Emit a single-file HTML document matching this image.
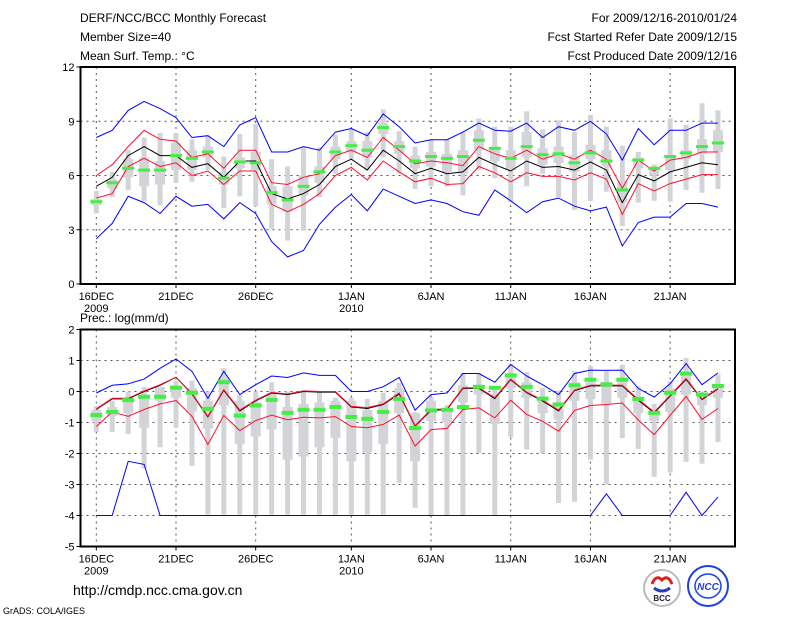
<!DOCTYPE html>
<html><head><meta charset="utf-8"><style>
html,body{margin:0;padding:0;background:#fff;}
svg{display:block;font-family:"Liberation Sans",sans-serif;}
</style></head><body>
<svg id="chart" width="800" height="618" viewBox="0 0 800 618" xmlns="http://www.w3.org/2000/svg">
<g font-size="12" fill="#000">
<text x="80" y="22">DERF/NCC/BCC Monthly Forecast</text>
<text x="80" y="41">Member Size=40</text>
<text x="80" y="60">Mean Surf. Temp.: °C</text>
<text x="737" y="22" text-anchor="end">For 2009/12/16-2010/01/24</text>
<text x="737" y="41" text-anchor="end">Fcst Started Refer Date 2009/12/15</text>
<text x="737" y="60" text-anchor="end">Fcst Produced Date 2009/12/16</text>
</g>
<text x="80" y="322" font-size="12">Prec.: log(mm/d)</text>
<text x="73" y="595" font-size="14">http://cmdp.ncc.cma.gov.cn</text>
<text x="3" y="614" font-size="9">GrADS: COLA/IGES</text>
<g>
<circle cx="662" cy="588" r="18" fill="#fff" stroke="#bbb" stroke-width="2"/>
<path d="M652 584 q4 -10 10 -4 q6 -6 10 4" fill="none" stroke="#e02020" stroke-width="3"/>
<path d="M654 588 q8 6 16 0" fill="none" stroke="#2040c0" stroke-width="3"/>
<text x="662" y="601" font-size="8" font-weight="bold" text-anchor="middle" fill="#223">BCC</text>
</g>
<g>
<circle cx="708" cy="586" r="20" fill="#fff" stroke="#2040e0" stroke-width="2"/>
<ellipse cx="708" cy="586" rx="13" ry="12" fill="none" stroke="#2040e0" stroke-width="1.5"/>
<text x="708" y="590" font-size="10" font-weight="bold" font-style="italic" text-anchor="middle" fill="#2040e0">NCC</text>
</g>
<g id="top"></g>
<g id="bot"></g>
</svg>
<script>
// ---- data ----
const days = ["16DEC","21DEC","26DEC","1JAN","6JAN","11JAN","16JAN","21JAN"];
const dayIdx = [0,5,10,16,21,26,31,36];
const years = ["2009","2010"];
const yearIdx = [0,16];
const tTicks = [0,3,6,9,12];
const pTicks = [-5,-4,-3,-2,-1,0,1,2];

const tBlueHi = [8.1,8.5,9.6,10.1,9.7,9.2,8.1,8.2,7.6,8.8,9.2,7.3,7.3,7.6,7.4,8.4,8.6,8.2,9.4,8.7,7.8,7.98,7.98,8.4,8.9,8.5,8.45,8.9,8.1,8.7,8.5,9.0,8.3,6.85,8.6,7.7,8.5,8.5,8.9,8.9];
const tRedHi = [6.0,6.6,7.6,8.5,8.0,7.9,7.0,7.2,6.4,7.4,7.4,5.6,5.5,5.9,6.1,7.1,7.4,7.0,8.1,7.4,6.65,6.8,6.7,6.55,7.6,7.2,6.95,7.4,6.9,7.2,6.9,7.4,6.9,5.3,6.85,6.25,6.85,7.0,7.3,7.3];
const tMean = [5.4,5.9,7.1,7.6,7.1,7.1,6.45,6.65,5.9,6.8,6.8,5.0,4.7,5.0,5.5,6.5,6.9,6.3,7.4,6.8,6.1,6.4,6.1,6.2,7.0,6.6,6.25,6.8,6.45,6.5,6.3,6.75,6.3,4.5,6.05,5.7,6.2,6.45,6.7,6.6];
const tRedLo = [4.75,5.0,6.5,6.95,6.5,6.7,6.0,6.25,5.5,6.25,6.25,4.4,4.0,4.4,5.0,6.0,6.45,5.75,6.8,6.2,5.65,5.85,5.5,5.55,6.5,6.15,5.65,6.15,5.95,5.95,5.75,6.15,5.8,3.85,5.55,5.15,5.55,5.8,6.05,6.05];
const tBlueLo = [2.5,3.35,4.85,4.5,3.9,4.85,4.3,4.4,3.6,4.5,3.9,2.35,1.5,1.85,3.3,4.25,4.95,4.05,5.25,4.85,4.45,4.65,4.45,4.0,3.8,5.2,4.6,3.95,4.55,4.75,4.3,4.05,4.25,2.1,3.4,3.7,3.7,4.45,4.45,4.25];
const tMedian = [4.55,5.6,6.4,6.3,6.3,7.1,6.95,7.3,5.85,6.75,6.7,5.05,4.65,5.4,6.2,7.3,7.65,7.4,8.65,7.6,6.8,7.05,6.95,7.05,7.95,7.5,6.95,7.6,7.15,7.2,6.7,7.25,6.8,5.2,6.85,6.4,7.05,7.25,7.6,7.8];
const tMax = [5.15,6.2,7.4,8.1,8.35,8.35,8.0,8.15,7.05,8.3,8.85,6.9,6.5,7.55,7.55,8.25,8.6,8.4,9.65,8.45,7.6,8.0,8.0,8.4,9.15,8.7,8.7,9.55,8.55,9.05,8.4,9.35,8.7,7.65,7.3,6.6,9.15,8.8,10.0,9.6];
const tMin = [3.9,4.8,5.2,4.6,4.35,5.6,5.65,6.3,4.2,4.85,4.3,3.05,2.4,2.95,4.8,6.1,6.9,6.3,7.0,6.1,5.25,5.4,5.4,4.9,6.3,5.85,4.55,5.4,6.1,4.8,4.1,4.6,5.1,3.2,4.5,4.6,4.55,5.2,5.05,5.25];
const tQ3 = [4.7,5.8,6.9,7.0,6.8,7.8,7.4,7.6,6.2,7.0,7.3,5.4,5.4,6.0,6.5,7.6,7.9,7.9,8.9,7.9,7.1,7.3,7.2,7.4,8.5,7.6,7.4,8.4,7.5,7.6,7.1,7.7,7.4,5.7,7.0,6.4,7.0,7.4,8.0,8.5];
const tQ1 = [4.35,5.3,5.9,5.4,5.5,6.3,6.3,7.0,5.5,6.4,6.3,4.4,4.0,4.9,5.6,6.9,7.3,7.0,8.3,7.2,6.4,6.5,6.2,6.1,7.4,6.8,6.3,7.0,6.6,6.7,6.2,6.9,6.5,4.5,6.4,6.0,6.3,6.9,7.2,7.3];

const pBlueHi = [-0.05,0.2,0.25,0.4,0.75,1.05,0.65,-0.22,0.65,-0.1,0.22,0.5,0.45,0.6,0.52,0.52,0,0,0.15,0.45,-0.6,-0.1,-0.05,0.58,0.58,0.3,0.87,0.5,0.22,-0.1,0.58,0.69,0.68,0.69,0.1,-0.18,0.25,0.9,0.22,0.6];
const pRedHi = [-0.56,-0.22,-0.22,0.02,0.22,0.46,-0.06,-0.8,0.06,-0.6,-0.28,-0.03,-0.08,0.02,0,0,-0.48,-0.52,-0.4,-0.05,-1.1,-0.58,-0.56,0.12,0.12,-0.2,0.4,-0.02,-0.28,-0.6,0.05,0.2,0.21,0.2,-0.25,-0.66,-0.13,0.42,-0.24,0.1];
const pMean = [-0.58,-0.24,-0.24,0,0.2,0.46,-0.08,-0.82,0.04,-0.63,-0.3,-0.05,-0.1,0,-0.02,-0.02,-0.5,-0.55,-0.42,-0.08,-1.12,-0.61,-0.58,0.1,0.1,-0.23,0.38,-0.04,-0.31,-0.63,0.03,0.18,0.18,0.18,-0.28,-0.69,-0.15,0.39,-0.26,0.08];
const pRedLo = [-1.13,-0.66,-0.8,-0.58,-0.4,-0.29,-0.8,-1.71,-0.77,-1.26,-0.94,-0.76,-0.91,-0.83,-0.85,-0.81,-1.13,-1.17,-1.06,-0.76,-1.76,-1.23,-1.19,-0.58,-0.53,-0.85,-0.28,-0.74,-0.96,-1.28,-0.61,-0.45,-0.42,-0.37,-0.92,-1.39,-0.77,-0.16,-0.9,-0.55];
const pBlueLo = [-4,-4,-2.25,-2.35,-4,-4,-4,-4,-4,-4,-4,-4,-4,-4,-4,-4,-4,-4,-4,-4,-4,-4,-4,-4,-4,-4,-4,-4,-4,-4,-4,-4,-3.3,-4,-4,-4,-4,-3.25,-4,-3.4];
const pMedian = [-0.76,-0.66,-0.28,-0.17,-0.17,0.12,-0.04,-0.56,0.3,-0.78,-0.45,-0.27,-0.69,-0.59,-0.59,-0.5,-0.82,-0.88,-0.66,-0.24,-1.18,-0.61,-0.59,-0.5,0.15,0.12,0.52,0.15,-0.23,-0.42,0.2,0.38,0.23,0.38,-0.24,-0.69,-0.04,0.58,-0.1,0.18];
const pMax = [-0.47,-0.3,0,0.15,0.15,0.35,0.35,0,0.75,-0.12,0,0.3,0,0,0,-0.2,-0.2,-0.24,-0.04,0.28,-0.66,-0.18,-0.44,0.6,0.6,0.14,0.9,0.63,0.12,0.03,0.65,0.82,0.65,0.87,0.17,-0.4,0.33,1.08,0,0.55];
const pMin = [-1.3,-1.3,-1.37,-2.48,-1.8,-1.17,-2.4,-3.97,-3.97,-3.97,-3.97,-3.97,-3.97,-3.97,-3.97,-3.97,-3.97,-3.97,-3.97,-2.95,-3.75,-4,-4,-4,-1.98,-4,-1.47,-1.87,-2.0,-3.6,-3.56,-2.2,-3.0,-1.5,-1.85,-2.75,-2.62,-2.27,-2.33,-1.63];
const pQ3 = [-0.6,-0.5,-0.2,-0.1,0.15,0.2,0.1,-0.3,0.45,-0.3,-0.35,-0.05,-0.5,-0.4,-0.35,-0.3,-0.3,-0.6,-0.3,0.1,-0.7,-0.3,-0.55,0.2,0.2,-0.1,0.5,0.3,-0.2,-0.35,0.3,0.3,0.3,0.3,-0.2,-0.6,0.1,0.55,-0.1,0.2];
const pQ1 = [-0.95,-0.8,-0.7,-1.17,-0.3,-0.2,-0.65,-1.2,-0.45,-1.7,-1.45,-1.22,-2.2,-2.1,-1.8,-1.5,-2.25,-1.97,-1.7,-0.7,-2.25,-0.95,-1.0,-0.35,-0.1,-1.05,0.1,-0.2,-0.7,-0.9,-0.3,-0.25,-0.4,-0.2,-0.7,-0.95,-0.65,-0.1,-0.45,-0.2];

// ---- drawing ----
const NS = "http://www.w3.org/2000/svg";
const X0 = 80.5, X1 = 735, D0 = 96.3, DX = 15.94;
function xd(i){ return D0 + i*DX; }
function mk(parent, tag, attrs){
  const e = document.createElementNS(NS, tag);
  for (const k in attrs) e.setAttribute(k, attrs[k]);
  parent.appendChild(e);
  return e;
}
function panel(g, yTop, yBot, vMin, vMax, ticks, S, pre, medH){
  const yv = v => yBot - (v - vMin) * (yBot - yTop) / (vMax - vMin);
  const n = S.mean.length;
  ticks.forEach(t => {
    if (t === vMin || t === vMax) return;
    const l = mk(g, "line", {x1:X0, x2:X1, y1:yv(t), y2:yv(t), stroke:"#555", "stroke-width":1, "stroke-dasharray":"2,4"});
    
    
  });
  dayIdx.forEach(i => {
    const l = mk(g, "line", {x1:xd(i), x2:xd(i), y1:yTop, y2:yBot, stroke:"#555", "stroke-width":1, "stroke-dasharray":"2,4"});
    
    
  });
  for (let i = 0; i < n; i++) {
    const w = mk(g, "rect", {x:xd(i)-2.5, width:5, y:yv(S.max[i]), height:yv(S.min[i])-yv(S.max[i]), fill:"#d3d4d8"});
    
    
    const b = mk(g, "rect", {x:xd(i)-5, width:10, y:yv(S.q3[i]), height:Math.max(1, yv(S.q1[i])-yv(S.q3[i])), fill:"#d3d4d8"});
    
    
  }
  const lines = [[S.blueLo,"#0000ff","blue-lower"],[S.blueHi,"#0000ff","blue-upper"],[S.redLo,"#ff1030","red-lower"],[S.mean,"#000","ensemble-mean"],[S.redHi,"#ff1030","red-upper"]];
  lines.forEach(([arr,c,nm]) => {
    const p = mk(g, "polyline", {points: arr.map((v,i)=>xd(i).toFixed(1)+","+yv(v).toFixed(1)).join(" "), fill:"none", stroke:c, "stroke-width":1});
    
    
  });
  for (let i = 0; i < n; i++) {
    const m = mk(g, "rect", {x:xd(i)-6, width:12, y:yv(S.med[i])-medH/2, height:medH, fill:"#44ee44"});
    
    
  }
  const f = mk(g, "rect", {x:X0, y:yTop, width:X1-X0, height:yBot-yTop, fill:"none", stroke:"#000", "stroke-width":2});
  
  
  ticks.forEach(t => {
    const l = mk(g, "line", {x1:X0-4, x2:X0, y1:yv(t), y2:yv(t), stroke:"#000"});
    
    
    const tx = mk(g, "text", {x:X0-6, y:yv(t)+4, "text-anchor":"end", "font-size":11});
    tx.textContent = t;
    
    
  });
  dayIdx.forEach((i,k) => {
    const l = mk(g, "line", {x1:xd(i), x2:xd(i), y1:yBot, y2:yBot+4, stroke:"#000"});
    
    
    const tx = mk(g, "text", {x:xd(i), y:yBot+16, "text-anchor":"middle", "font-size":11});
    tx.textContent = days[k];
    
    
  });
  yearIdx.forEach((i,k) => {
    const tx = mk(g, "text", {x:xd(i), y:yBot+28, "text-anchor":"middle", "font-size":11});
    tx.textContent = years[k];
    
    
  });
}
panel(document.getElementById("top"), 67, 284, 0, 12, tTicks,
  {blueHi:tBlueHi, redHi:tRedHi, mean:tMean, redLo:tRedLo, blueLo:tBlueLo, med:tMedian, max:tMax, min:tMin, q3:tQ3, q1:tQ1}, "temp", 3);
panel(document.getElementById("bot"), 329.5, 546.5, -5, 2, pTicks,
  {blueHi:pBlueHi, redHi:pRedHi, mean:pMean, redLo:pRedLo, blueLo:pBlueLo, med:pMedian, max:pMax, min:pMin, q3:pQ3, q1:pQ1}, "prec", 4);
</script>
</body></html>
